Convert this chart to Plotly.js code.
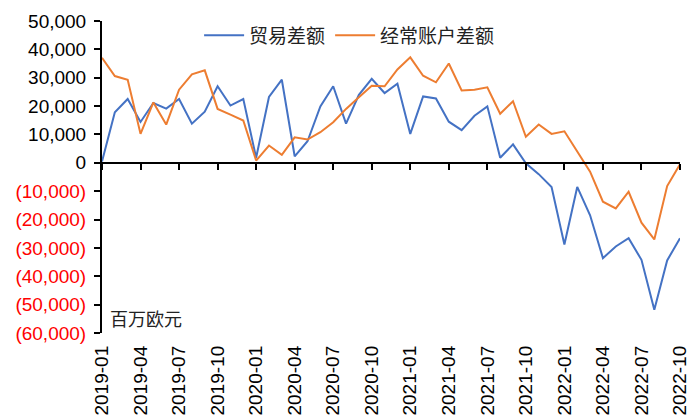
<!DOCTYPE html>
<html>
<head>
<meta charset="utf-8">
<script src="https://cdn.plot.ly/plotly-3.0.1.min.js"></script>
<style>html,body{margin:0;padding:0;background:#fff;}#chart{width:700px;height:420px;}</style>
</head>
<body>
<div id="chart"></div>
<script>
// Months 2019-01 .. 2022-10
var years = [2019, 2020, 2021, 2022];
var months = [];
years.forEach(function (y) {
  for (var m = 1; m <= 12; m++) {
    if (y === 2022 && m > 10) break;
    months.push(y + '-' + (m < 10 ? '0' + m : '' + m));
  }
});

// 贸易差额 (trade balance), million EUR
var tradeBalance = [
  500, 17800, 22500, 14400, 21100, 19100, 22500, 13800, 18000, 27000, 20200, 22500,
  1800, 23200, 29300, 2300, 7600, 19900, 27000, 13800, 24000, 29600, 24600, 27900,
  10200, 23400, 22700, 14500, 11500, 16600, 19900, 1800, 6500, -200, -4000, -8500,
  -28800, -8500, -18500, -33600, -29500, -26600, -34200, -51800, -34400, -26600
];

// 经常账户差额 (current account balance), million EUR
var currentAccount = [
  37000, 30600, 29300, 10200, 21300, 13500, 25800, 31200, 32600, 19000, 17000, 14900,
  800, 6100, 2800, 9000, 8200, 10800, 14300, 19000, 23100, 27200, 27000, 32900,
  37200, 30700, 28400, 35000, 25500, 25800, 26600, 17300, 21700, 9200, 13500, 10200,
  11100, 4200, -3100, -13700, -16100, -10200, -21100, -27000, -8200, -500
];

var seriesNames = ['贸易差额', '经常账户差额'];
var unitLabel = '百万欧元';

// x tick labels: every third month
var xTicks = months.filter(function (m, i) { return i % 3 === 0; });

// y ticks
var yTickVals = [50000, 40000, 30000, 20000, 10000, 0, -10000, -20000, -30000, -40000, -50000, -60000];
var yTickText = yTickVals.map(function (v) {
  var s = Math.abs(v).toLocaleString('en-US');
  if (v < 0) return '<span style="color:#FF0000">(' + s + ')</span>';
  return s;
});

var yMin = -60000, yMax = 50000;
var zeroPos = (0 - yMin) / (yMax - yMin);

var traces = [
  {
    x: months, y: tradeBalance, name: seriesNames[0], type: 'scatter', mode: 'lines',
    line: {color: '#4472C4', width: 2}, xaxis: 'x', yaxis: 'y'
  },
  {
    x: months, y: currentAccount, name: seriesNames[1], type: 'scatter', mode: 'lines',
    line: {color: '#ED7D31', width: 2}, xaxis: 'x2', yaxis: 'y'
  }
];

var tickFont = {family: '"Liberation Sans", Arial, sans-serif', size: 19, color: '#000'};

var layout = {
  width: 700, height: 420,
  margin: {l: 102, r: 20, t: 21, b: 87},
  paper_bgcolor: '#fff', plot_bgcolor: '#fff',
  showlegend: true,
  legend: {
    orientation: 'h', x: 0.168, y: 1.015, xanchor: 'left', yanchor: 'top',
    font: {family: '"Noto Sans CJK SC", sans-serif', size: 19, color: '#222'},
    bgcolor: 'rgba(0,0,0,0)', itemwidth: 40, tracegroupgap: 0
  },
  xaxis: {
    type: 'category', range: [0, months.length - 1],
    tickmode: 'array', tickvals: xTicks, ticktext: xTicks,
    tickangle: -90, tickfont: tickFont, ticks: '', showline: false,
    showgrid: false, zeroline: false, anchor: 'y', ticklabelstandoff: 8
  },
  xaxis2: {
    type: 'category', range: [0, months.length - 1], overlaying: 'x',
    anchor: 'free', position: zeroPos, side: 'bottom',
    tickmode: 'array', tickvals: xTicks.concat([months[months.length - 1]]),
    showticklabels: false, ticks: 'outside', ticklen: 6, tickwidth: 2, tickcolor: '#000',
    showline: true, linecolor: '#000', linewidth: 2, showgrid: false, zeroline: false
  },
  yaxis: {
    range: [yMin, yMax], tickmode: 'array', tickvals: yTickVals, ticktext: yTickText,
    tickfont: tickFont, ticks: 'outside', ticklen: 6, tickwidth: 2, tickcolor: '#000',
    showline: true, linecolor: '#000', linewidth: 2, showgrid: false, zeroline: false,
    ticklabelstandoff: 4
  },
  annotations: [{
    text: unitLabel, xref: 'paper', yref: 'paper', x: 0.01, y: 0.0,
    xanchor: 'left', yanchor: 'bottom', showarrow: false,
    font: {family: '"Noto Sans CJK SC", sans-serif', size: 18, color: '#222'}
  }]
};

Plotly.newPlot('chart', traces, layout, {displayModeBar: false, staticPlot: true});
</script>
</body>
</html>
